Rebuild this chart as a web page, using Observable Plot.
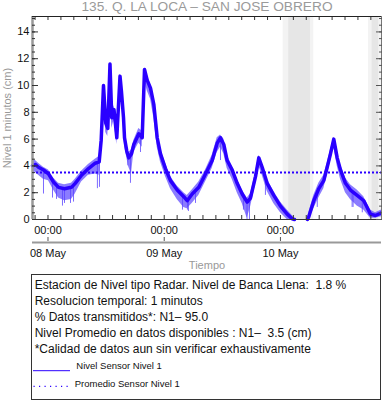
<!DOCTYPE html>
<html><head><meta charset="utf-8">
<script src="https://cdn.jsdelivr.net/npm/d3@7"></script>
<script src="https://cdn.jsdelivr.net/npm/@observablehq/plot@0.6"></script>
<style>
body{margin:0;background:#fff;font-family:"Liberation Sans",Arial,Helvetica,sans-serif;}
#wrap{position:relative;width:382px;height:404px;overflow:hidden;background:#fff;}
#chart{position:absolute;left:0;top:0;}
#legend{position:absolute;left:31px;top:274px;width:348px;height:124px;border:1px solid #333;color:#111;}
#legend .txt{position:absolute;left:2.7px;top:1.7px;font-size:12px;line-height:16px;white-space:pre;}
#legend .ent{position:absolute;font-size:9.5px;line-height:12px;white-space:nowrap;color:#111;}
#legend svg{position:absolute;left:0;top:0;}
</style></head><body>
<div id="wrap"><div id="chart"></div>
<div id="legend"></div></div>
<script>
const titulo = "135. Q. LA LOCA – SAN JOSE OBRERO";
const etiquetaY = "Nivel 1 minutos (cm)";
const etiquetaX = "Tiempo";
// hours since 08 May 00:00
const horas = [-3.2,-2.58,-1.96,-0.93,0.10,1.14,2.17,3.41,4.85,5.62,6.92,8.36,9.75,10.57,10.98,11.46,11.93,12.35,12.80,13.17,13.63,14.21,14.87,15.18,15.59,15.80,16.27,16.68,17.24,17.72,18.75,19.45,19.93,20.48,21.17,21.85,22.55,23.23,24.26,25.29,26.68,28.04,28.74,29.77,31.14,32.52,33.90,34.94,35.62,36.30,37.00,38.03,39.07,40.10,41.13,41.81,42.85,43.53,44.23,45.26,46.62,48.01,49.39,50.42,50.90,52.2,53.58,53.85,54.88,55.92,56.95,57.65,58.33,59.01,59.72,60.40,61.43,62.46,63.84,65.21,65.91,66.59,67.62,68.87];
const nivel = [4.0,4.1,3.9,3.7,3.4,2.8,2.4,2.3,2.4,2.7,3.3,3.8,4.2,4.3,5.9,10.0,7.2,6.8,11.6,7.6,8.2,6.1,10.7,9.5,7.6,6.1,5.1,4.6,4.9,5.6,6.4,6.1,11.2,10.4,9.8,8.6,6.1,4.9,3.8,2.9,2.2,1.7,1.4,1.9,2.4,3.4,4.4,5.7,6.1,5.6,4.4,3.7,2.7,1.9,1.3,1.6,3.2,4.6,3.9,2.7,1.8,1.0,0.4,0.05,0.0,null,0.0,0.2,1.4,2.3,2.9,3.9,4.9,6.0,4.6,3.7,2.7,2.2,1.8,1.4,0.9,0.4,0.3,0.5];
const nivelMin = [3.6,3.5,3.3,3.0,2.9,2.2,1.6,1.4,1.5,1.9,2.8,3.3,3.4,3.3,5.2,9.2,6.5,6.2,10.6,6.8,7.4,5.6,9.9,8.8,7.0,5.5,4.6,3.9,3.4,5.0,5.7,5.4,10.4,9.6,9.0,7.6,5.4,4.3,3.2,2.3,1.5,0.9,0.8,1.2,1.8,2.8,3.8,5.0,5.4,4.9,3.8,3.0,2.0,1.2,0.1,0.9,2.6,4.0,3.3,2.1,1.2,0.5,0.0,0.0,0.0,null,0.0,0.0,0.8,1.6,2.3,3.3,4.3,5.4,4.0,3.0,2.0,1.5,1.0,0.7,0.4,0.1,0.1,0.2];
const nivelMax = [4.4,4.4,4.2,3.9,3.7,3.1,2.7,2.6,2.7,3.0,3.6,4.1,4.5,4.7,6.5,10.0,7.6,7.2,11.6,8.0,8.5,6.6,10.7,9.9,8.0,6.5,5.5,5.0,5.2,5.9,6.8,6.6,11.3,10.8,10.1,8.9,6.5,5.3,4.2,3.2,2.5,2.0,1.8,2.2,2.8,3.7,4.8,6.1,6.3,6.0,4.8,4.0,3.0,2.2,1.6,1.9,3.5,4.8,4.2,3.0,2.1,1.3,0.7,0.3,0.1,null,0.1,0.5,1.8,2.7,3.3,4.2,5.2,6.1,5.0,4.1,3.1,2.6,2.2,1.7,1.2,0.7,0.5,0.7];
// isolated downward spikes (hour, top, bottom)
const picoHora = [-0.93,0.93,1.76,2.99,3.41,4.65,5.27,10.2,10.63,16.48,17.03,19.1,27.77,28.8,29.0,30.46,35.62,40.36,41.1,41.6,44.9,50.1,55.6,62.8,63.0,64.9];
const picoAlto = [3.6,3.1,2.6,2.2,2.3,2.3,2.5,4.2,4.3,4.9,4.8,6.3,1.8,1.4,1.5,2.1,6.1,1.7,1.2,1.5,3.0,0.2,2.0,2.1,2.0,1.5];
const picoBajo = [1.9,1.6,1.5,1.0,1.2,1.2,1.3,2.3,2.4,4.0,2.7,5.0,0.7,0.7,0.6,1.2,4.4,0.7,0.0,0.0,1.8,0.0,0.9,0.9,0.9,0.5];
const promedio = 3.5;
// shaded (missing data) bands
const bandaIni = ["2024-05-10T00:34Z","2024-05-10T01:43Z","2024-05-10T18:11Z","2024-05-10T18:56Z"];
const bandaFin = ["2024-05-10T06:53Z","2024-05-10T06:12Z","2024-05-10T20:52Z","2024-05-10T20:18Z"];
const bandaColor = ["#f3f3f3","#e6e6e6","#f3f3f3","#e6e6e6"];
const diasTicks = ["2024-05-08T00:00Z","2024-05-09T00:00Z","2024-05-10T00:00Z"];
const yTicks = [0,2,4,6,8,10,12,14];
const yMenores = [0,0.5,1,1.5,2,2.5,3,3.5,4,4.5,5,5.5,6,6.5,7,7.5,8,8.5,9,9.5,10,10.5,11,11.5,12,12.5,13,13.5,14,14.5,15];
const xInicio = "2024-05-07T20:48Z", xFin = "2024-05-10T20:52Z";
const legendaTexto = ["Estacion de Nivel tipo Radar. Nivel de Banca Llena:  1.8 %","Resolucion temporal: 1 minutos","% Datos transmitidos*: N1– 95.0","Nivel Promedio en datos disponibles : N1–  3.5 (cm)","*Calidad de datos aun sin verificar exhaustivamente"];
const legendaSeries = ["Nivel Sensor Nivel 1","Promedio Sensor Nivel 1"];

const base = Date.UTC(2024,4,8);
const fecha = h => new Date(base + h*3600e3);
const datos = horas.map((h,i)=>({fecha:fecha(h), nivel:nivel[i], min:nivelMin[i], max:nivelMax[i]}));
const picos = picoHora.map((h,i)=>({fecha:fecha(h), alto:picoAlto[i], bajo:picoBajo[i]}));
const bandas = bandaIni.map((d,i)=>({ini:new Date(d), fin:new Date(bandaFin[i]), color:bandaColor[i]}));
const x0 = new Date(xInicio), x1 = new Date(xFin);
const medianoches = diasTicks.map(d=>new Date(d));
const menores = d3.range(-2, 30).map(k=>new Date(base + k*160*60e3)).filter(d=>d>=x0 && d<=x1);
const azul = "#2a00ff";
const yMax = 15.15;

const plot = Plot.plot({
  width:382, height:272, marginTop:16, marginBottom:53, marginLeft:32, marginRight:1,
  style:{fontFamily:"'Liberation Sans',Arial,sans-serif", fontSize:"11px", background:"white", overflow:"visible"},
  x:{type:"utc", domain:[x0,x1]},
  y:{domain:[0,yMax]},
  color:{type:"identity"},
  marks:[
    Plot.rect(bandas, {x1:"ini", x2:"fin", fill:"color"}),
    Plot.ruleX(picos, {x:"fecha", y1:"bajo", y2:"alto", stroke:"#7d6bff", strokeWidth:1}),
    Plot.areaY(datos, {x:"fecha", y1:"min", y2:"max", fill:"#5a44ff", fillOpacity:0.7}),
    Plot.line(datos, {x:"fecha", y:"nivel", stroke:azul, strokeWidth:3.5, strokeLinejoin:"round"}),
    Plot.ruleY([promedio], {stroke:azul, strokeWidth:2, strokeDasharray:"2,2"}),
    // frame
    Plot.ruleX([x0], {stroke:"#999", strokeWidth:2.5}),
    Plot.ruleX([x1], {stroke:"#777"}),
    Plot.ruleY([yMax], {stroke:"#222"}),
    Plot.ruleY([0], {stroke:"#333"}),
    // y ticks (inward)
    Plot.axisY({anchor:"left", ticks:yMenores, tickSize:-3, fill:"none", label:null, stroke:"#333"}),
    Plot.axisY({anchor:"left", ticks:yTicks, tickSize:-6, fill:"none", label:null, stroke:"#333"}),
    Plot.axisY({anchor:"right", ticks:yMenores, tickSize:-3, fill:"none", label:null, stroke:"#555"}),
    Plot.axisY({anchor:"right", ticks:yTicks, tickSize:-6, fill:"none", label:null, stroke:"#555"}),
    Plot.axisY({anchor:"left", ticks:yTicks, tickSize:0, tickPadding:3, label:null, fill:"#111", fontSize:11}),
    // x ticks
    Plot.axisX({anchor:"bottom", ticks:menores, tickSize:-4, fill:"none", label:null, stroke:"#333"}),
    Plot.axisX({anchor:"top", ticks:menores, tickSize:-3, fill:"none", label:null, stroke:"#333"}),
    Plot.axisX({anchor:"bottom", ticks:medianoches, tickSize:0, tickPadding:7, tickFormat:d3.utcFormat("%H:%M"), label:null, fill:"#111", fontSize:11}),
    Plot.ruleY([0], {dy:23, stroke:"#999", strokeWidth:2}),
    Plot.axisX({anchor:"bottom", ticks:medianoches, tickSize:-4, dy:22, fill:"none", label:null, stroke:"#555"}),
    Plot.axisX({anchor:"bottom", ticks:medianoches, tickSize:0, tickPadding:29.5, tickFormat:d3.utcFormat("%d %b"), label:null, fill:"#111", fontSize:11}),
    // labels
    Plot.text([etiquetaX], {text:d=>d, frameAnchor:"bottom", lineAnchor:"middle", dy:46, fill:"#999", fontSize:11}),
    Plot.text([etiquetaY], {text:d=>d, frameAnchor:"left", textAnchor:"middle", lineAnchor:"middle", rotate:-90, dx:-25, fill:"#999", fontSize:11}),
    Plot.text([titulo], {text:d=>d, frameAnchor:"top", lineAnchor:"middle", dy:-9.5, fill:"#9a9a9a", fontSize:13.7})
  ]
});
document.getElementById("chart").appendChild(plot);

// legend box
const leg = document.getElementById("legend");
const txt = document.createElement("div");
txt.className = "txt";
txt.textContent = legendaTexto.join("\n");
leg.appendChild(txt);
const ns = "http://www.w3.org/2000/svg";
const sv = document.createElementNS(ns, "svg");
sv.setAttribute("width", 348); sv.setAttribute("height", 124);
sv.innerHTML = `<line x1="1" x2="38" y1="95.7" y2="95.7" stroke="${azul}" stroke-width="1"/>`+
  `<line x1="1.5" x2="36" y1="111.3" y2="111.3" stroke="${azul}" stroke-width="1.2" stroke-dasharray="1.2,4.3"/>`;
leg.appendChild(sv);
[[44.3, 85.3], [42.7, 103]].forEach(([l,t],i)=>{
  const e = document.createElement("div");
  e.className = "ent"; e.style.left = l+"px"; e.style.top = t+"px";
  e.textContent = legendaSeries[i];
  leg.appendChild(e);
});
</script>
</body></html>
